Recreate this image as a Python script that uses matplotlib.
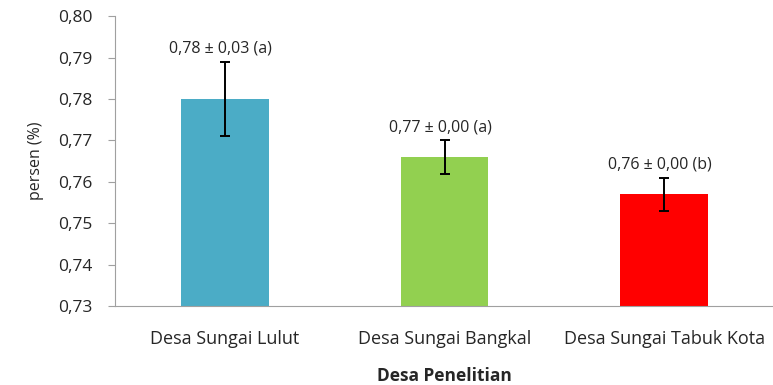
import matplotlib
matplotlib.use("Agg")
import matplotlib.pyplot as plt
from matplotlib.ticker import FuncFormatter

categories = ["Desa Sungai Lulut", "Desa Sungai Bangkal", "Desa Sungai Tabuk Kota"]
values = [0.780, 0.766, 0.757]
errors = [0.009, 0.004, 0.004]
labels = ["0,78 ± 0,03 (a)", "0,77 ± 0,00 (a)", "0,76 ± 0,00 (b)"]
colors = ["#4bacc6", "#92d050", "#ff0000"]
yticks = [0.73, 0.74, 0.75, 0.76, 0.77, 0.78, 0.79, 0.80]

plt.rcParams['font.family'] = ['Open Sans', 'DejaVu Sans']
txt = '#262626'

fig = plt.figure(figsize=(7.73, 3.85), dpi=100)
ax = fig.add_axes([0.1488, 0.205, 0.8525, 0.753])
x = list(range(len(categories)))
ax.bar(x, values, width=0.4, color=colors)
ax.errorbar(x, values, yerr=errors, fmt='none', ecolor='black', elinewidth=1.4, capsize=3.5, capthick=1.4)
for xi, v, e, lab in zip(x, values, errors, labels):
    ax.text(xi - 0.02, v + e + 0.0013, lab, ha='center', va='bottom', fontsize=11.5, color=txt)

ax.set_ylim(0.73, 0.80)
ax.set_xlim(-0.5, 2.5)
ax.set_yticks(yticks)
ax.yaxis.set_major_formatter(FuncFormatter(lambda v, p: f"{v:.2f}".replace('.', ',')))
ax.set_xticks(x)
ax.set_xticklabels(categories, fontsize=13, color=txt)
ax.tick_params(axis='y', labelsize=12.5, labelcolor=txt, length=5, color='#a0a0a0', pad=11)
ax.tick_params(axis='x', length=0, pad=17)
for s in ['top', 'right']:
    ax.spines[s].set_visible(False)
for s in ['left', 'bottom']:
    ax.spines[s].set_color('#a0a0a0')
ax.set_ylabel("persen (%)", fontsize=11.5, color=txt, labelpad=10)
ax.set_xlabel("Desa Penelitian", fontsize=12.5, fontweight='bold', color=txt, labelpad=14)

fig.savefig("out.png", dpi=100)
